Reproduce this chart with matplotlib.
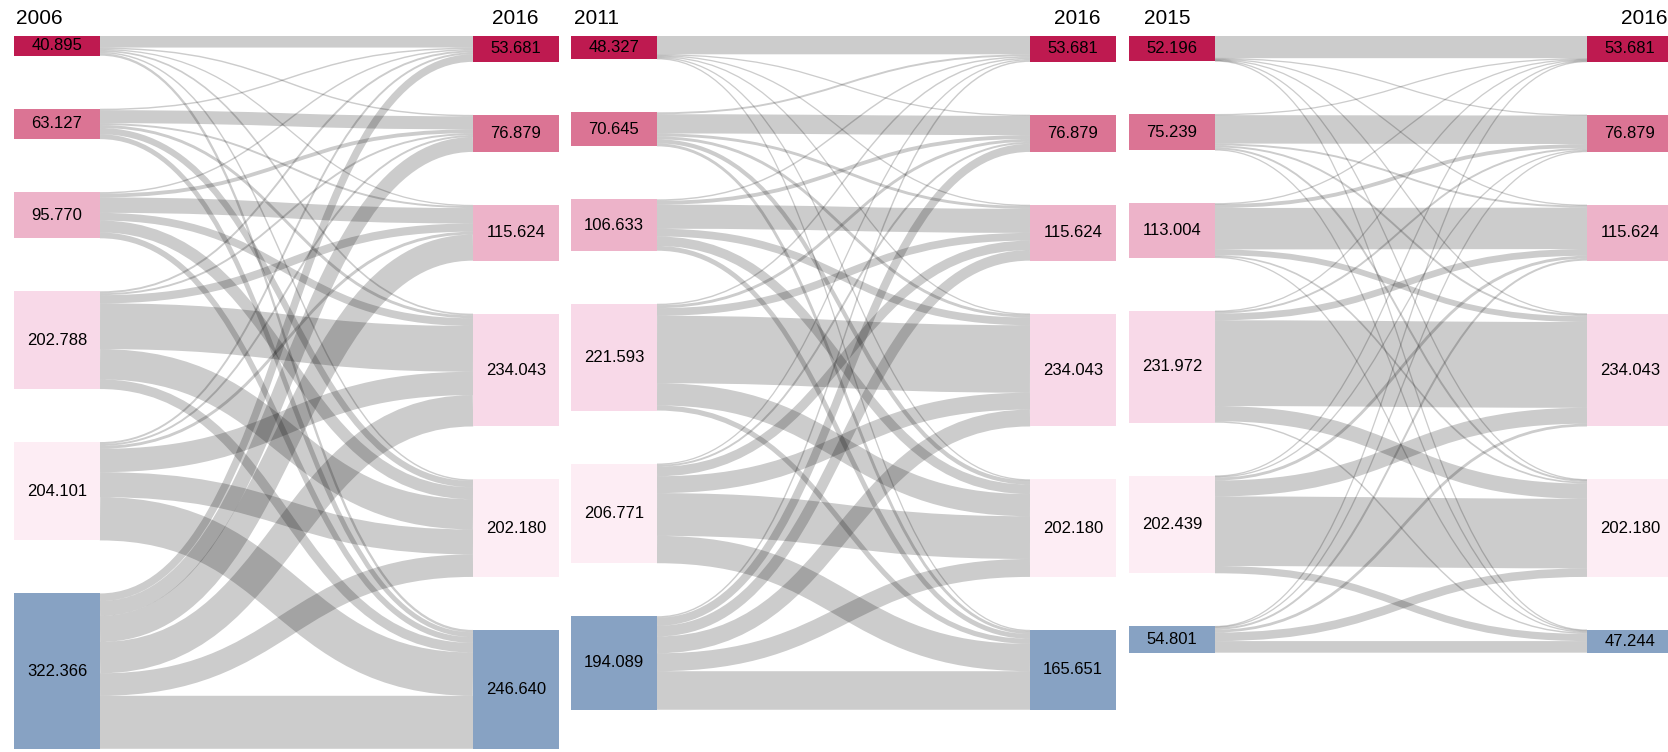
import matplotlib
matplotlib.use("Agg")
import matplotlib.pyplot as plt
from matplotlib.path import Path
from matplotlib.patches import PathPatch, Rectangle

# ---- data -------------------------------------------------------------
years_left = ["2006", "2011", "2015"]
year_right = "2016"

left_2006 = [40.895, 63.127, 95.770, 202.788, 204.101, 322.366]
left_2011 = [48.327, 70.645, 106.633, 221.593, 206.771, 194.089]
left_2015 = [52.196, 75.239, 113.004, 231.972, 202.439, 54.801]

right_vs_2006 = [53.681, 76.879, 115.624, 234.043, 202.180, 246.640]
right_vs_2011 = [53.681, 76.879, 115.624, 234.043, 202.180, 165.651]
right_vs_2015 = [53.681, 76.879, 115.624, 234.043, 202.180, 47.244]

# rows: start-year class (top -> bottom), cols: 2016 class (top -> bottom)
flows_2006 = [
    [24.0, 3.0, 2.5, 3.5, 3.0, 4.895],
    [3.0, 27.0, 4.0, 6.0, 13.127, 10.0],
    [3.0, 8.0, 32.0, 16.0, 24.77, 12.0],
    [4.0, 4.0, 17.0, 95.0, 62.788, 20.0],
    [4.0, 4.0, 6.0, 48.543, 51.813, 89.745],
    [15.681, 30.879, 54.124, 65.0, 46.682, 110.0],
]
flows_2011 = [
    [38.0, 2.0, 2.0, 2.0, 2.0, 2.327],
    [4.0, 40.0, 6.0, 6.0, 8.645, 6.0],
    [3.0, 8.0, 50.0, 16.0, 19.633, 10.0],
    [3.0, 6.0, 16.0, 140.0, 46.0, 10.593],
    [2.681, 4.0, 19.624, 35.043, 88.692, 56.731],
    [3.0, 16.879, 22.0, 35.0, 37.21, 80.0],
]
flows_2015 = [
    [46.0, 1.5, 1.5, 1.3, 1.0, 0.896],
    [2.0, 59.0, 4.0, 4.0, 4.0, 2.239],
    [1.5, 8.0, 86.0, 12.0, 3.5, 2.004],
    [1.5, 4.0, 14.0, 178.0, 31.472, 3.0],
    [1.5, 2.5, 6.0, 33.0, 144.439, 15.0],
    [1.181, 1.879, 4.124, 5.743, 17.769, 24.105],
]

node_colors = ["#be1a50", "#db7494", "#edb3c9", "#f8d9e8", "#fdedf4", "#87a2c3"]

# ---- layout (pixels) --------------------------------------------------
W, H, DPI = 1668, 752, 100
TOP = 36
GAP = 53
K = 0.482          # px per unit
NODE_W = 86
MIN_LW = 1.3       # px, thin links stay visible

panels = [
    (14, 473, years_left[0], left_2006, right_vs_2006, flows_2006, 39, 515),
    (571, 1030, years_left[1], left_2011, right_vs_2011, flows_2011, 597, 1077),
    (1129, 1587, years_left[2], left_2015, right_vs_2015, flows_2015, 1167, 1644),
]

plt.rcParams["font.family"] = ["Liberation Sans", "DejaVu Sans"]

fig = plt.figure(figsize=(W / DPI, H / DPI), dpi=DPI)
ax = fig.add_axes([0, 0, 1, 1])
ax.set_xlim(0, W)
ax.set_ylim(H, 0)
ax.axis("off")


def stack(vals):
    ys, y = [], TOP
    for v in vals:
        ys.append(y)
        y += v * K + GAP
    return ys


for xl, xr, ylab, lvals, rvals, flows, lx_txt, rx_txt in panels:
    yl = stack(lvals)
    yr = stack(rvals)
    n, m = len(lvals), len(rvals)

    # links leave a node ordered by target, arrive ordered by source
    out_off = [0.0] * n
    src_y = {}
    for i in range(n):
        for j in range(m):
            v = flows[i][j] * K
            src_y[(i, j)] = yl[i] + out_off[i] + v / 2
            out_off[i] += v
    in_off = [0.0] * m
    tgt_y = {}
    for j in range(m):
        for i in range(n):
            v = flows[i][j] * K
            tgt_y[(i, j)] = yr[j] + in_off[j] + v / 2
            in_off[j] += v

    x0 = xl + NODE_W
    x1 = xr
    xm = (x0 + x1) / 2
    for i in range(n):
        for j in range(m):
            v = flows[i][j]
            if v <= 0:
                continue
            ys, yt = src_y[(i, j)], tgt_y[(i, j)]
            path = Path([(x0, ys), (xm, ys), (xm, yt), (x1, yt)],
                        [Path.MOVETO, Path.CURVE4, Path.CURVE4, Path.CURVE4])
            lw = max(v * K, MIN_LW) * 72 / DPI
            ax.add_patch(PathPatch(path, fill=False, edgecolor=(0, 0, 0, 0.2),
                                   lw=lw, capstyle="butt", zorder=1))

    for x, ys, vals in [(xl, yl, lvals), (xr, yr, rvals)]:
        for k, (y, v) in enumerate(zip(ys, vals)):
            h = v * K
            ax.add_patch(Rectangle((x, y), NODE_W, h, facecolor=node_colors[k],
                                   edgecolor="none", zorder=2))
            ax.text(x + NODE_W / 2, y + h / 2, f"{v:.3f}", ha="center", va="center",
                    fontsize=12, color="black", zorder=3)

    ax.text(lx_txt, 19, ylab, ha="center", va="center", fontsize=15)
    ax.text(rx_txt, 19, year_right, ha="center", va="center", fontsize=15)

fig.savefig("out.png", dpi=DPI)
